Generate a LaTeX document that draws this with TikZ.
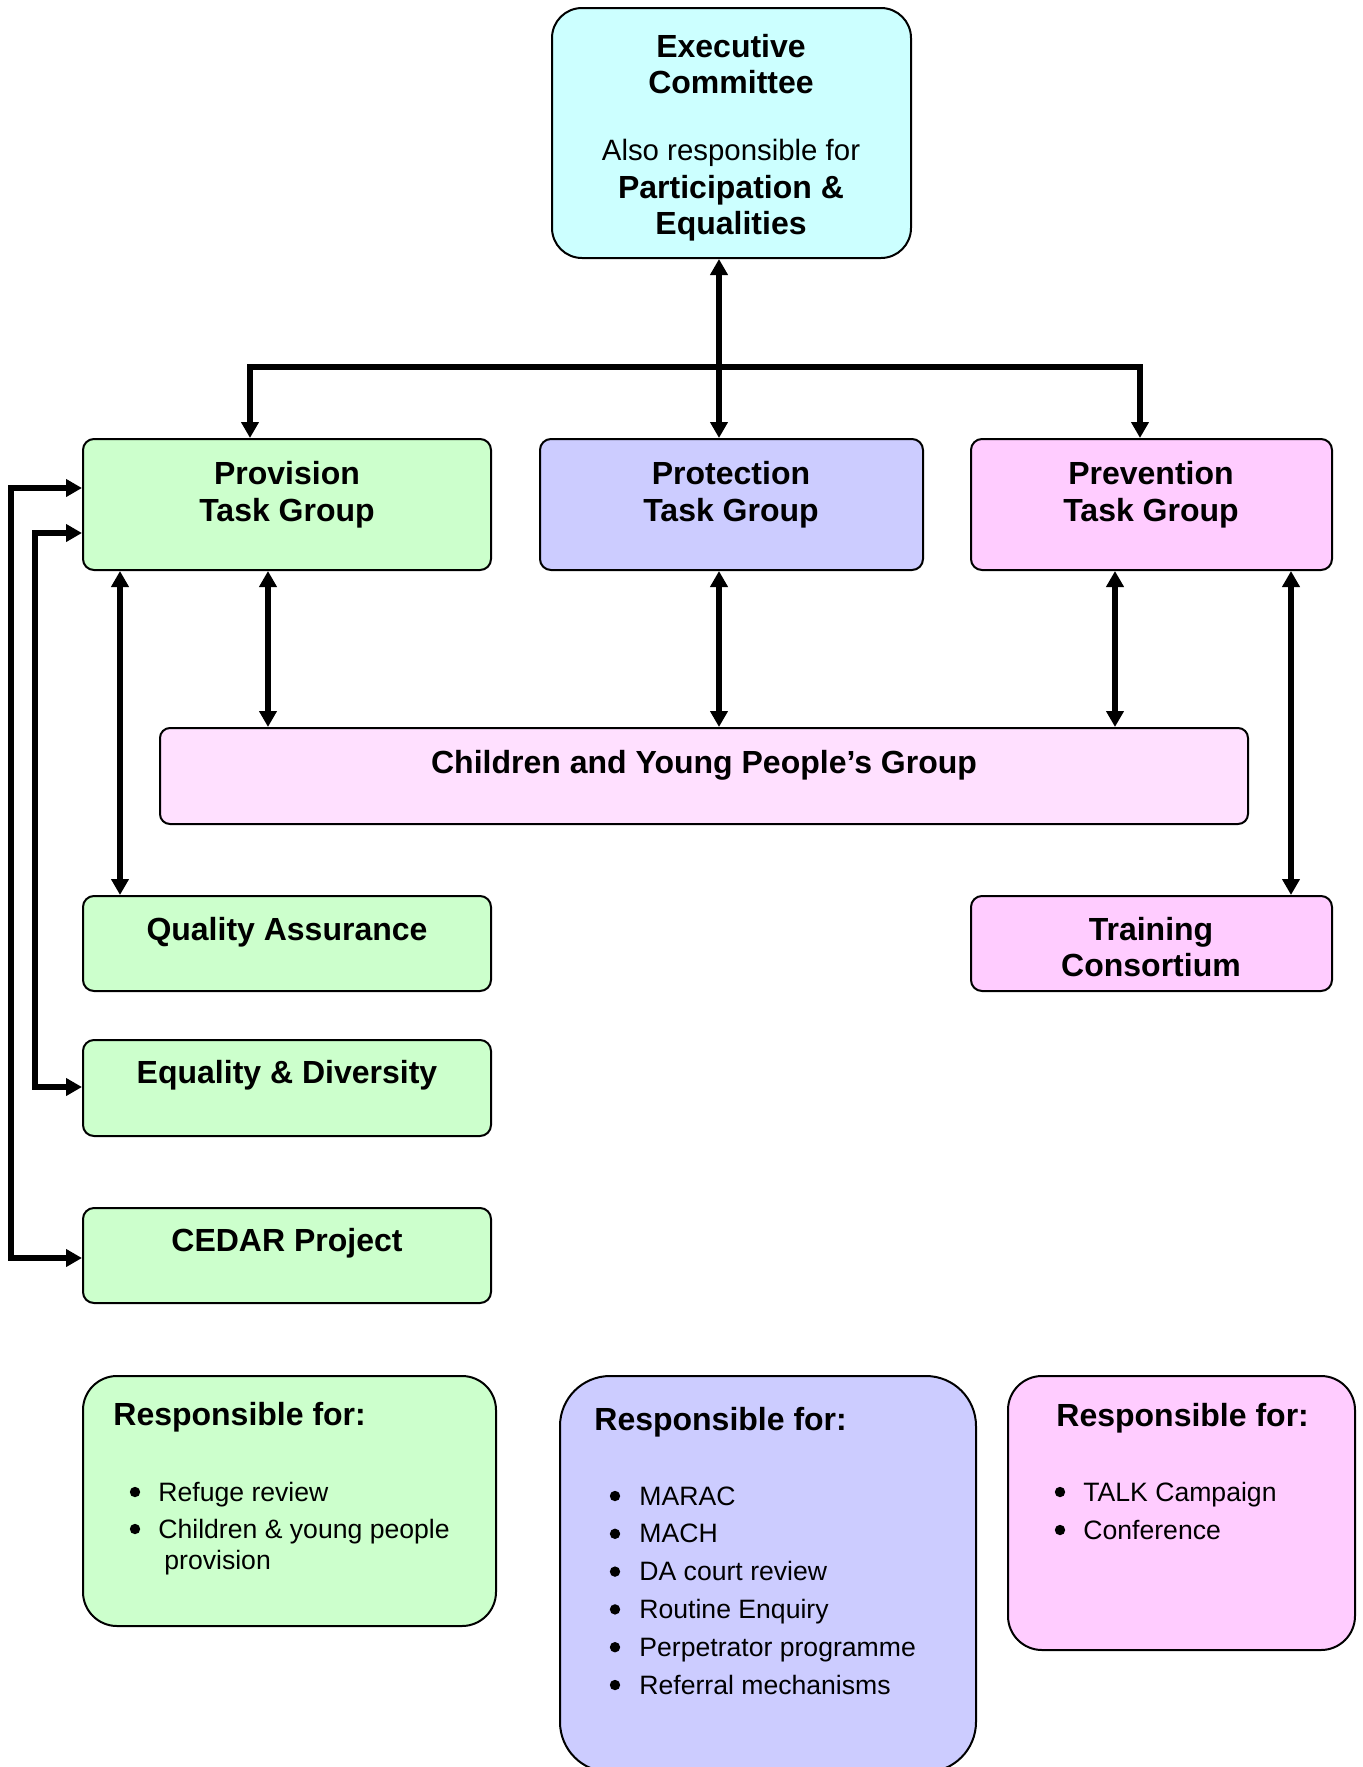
\documentclass[tikz,border=0pt]{standalone}
\usepackage{fontspec}
\setmainfont{Liberation Sans}
\usetikzlibrary{arrows.meta,fit}
\definecolor{execc}{HTML}{CCFFFF}
\definecolor{greenc}{HTML}{CCFFCC}
\definecolor{bluec}{HTML}{CCCCFF}
\definecolor{pinkc}{HTML}{FFCCFF}
\definecolor{cypc}{HTML}{FFE0FF}
\begin{document}
\begin{tikzpicture}[x=0.5pt,y=-0.5pt,
  box/.style={draw=black, line width=1pt, inner sep=0pt},
  arr/.style={line width=2.8pt, {Triangle[length=8pt,width=8.5pt]}-{Triangle[length=8pt,width=8.5pt]}},
  bt/.style={font=\fontsize{16pt}{18pt}\selectfont\bfseries, anchor=base, inner sep=0pt},
  rt/.style={font=\fontsize{14.7pt}{17pt}\selectfont, anchor=base, inner sep=0pt},
  rh/.style={font=\fontsize{16pt}{18pt}\selectfont\bfseries, anchor=base west, inner sep=0pt},
  it/.style={font=\fontsize{13.3pt}{16pt}\selectfont, anchor=base west, inner sep=0pt},
  bu/.style={circle, fill=black, inner sep=0pt, minimum size=5.2pt}
]
\useasboundingbox (0,0) rectangle (1362,1767);

% boxes
\node[box, fill=execc, rounded corners=15pt, fit={(552,8) (911,258)}] (exec) {};
\node[box, fill=greenc, rounded corners=5.5pt, fit={(83,439) (491,570)}] (prov) {};
\node[box, fill=bluec, rounded corners=5.5pt, fit={(540,439) (923,570)}] (prot) {};
\node[box, fill=pinkc, rounded corners=5.5pt, fit={(971,439) (1332,570)}] (prev) {};
\node[box, fill=cypc, rounded corners=5pt, fit={(160,728) (1248,824)}] (cyp) {};
\node[box, fill=greenc, rounded corners=5.5pt, fit={(83,896) (491,991)}] (qa) {};
\node[box, fill=pinkc, rounded corners=5.5pt, fit={(971,896) (1332,991)}] (tc) {};
\node[box, fill=greenc, rounded corners=5.5pt, fit={(83,1040) (491,1136)}] (ed) {};
\node[box, fill=greenc, rounded corners=5.5pt, fit={(83,1208) (491,1303)}] (cedar) {};
\node[box, fill=greenc, rounded corners=17pt, fit={(83,1376) (496,1626)}] (rgreen) {};
\node[box, fill=bluec, rounded corners=25pt, fit={(560,1376) (976,1772)}] (rblue) {};
\node[box, fill=pinkc, rounded corners=17pt, fit={(1008,1376) (1355,1650)}] (rpink) {};

% texts
\node[bt] (e1) at (731,57) {Executive};
\node[bt] (e2) at (731,93) {Committee};
\node[rt] (e3) at (731,160) {Also responsible for};
\node[bt] (e4) at (731,198) {Participation \&};
\node[bt] (e5) at (731,234) {Equalities};

\node[bt] (p1) at (287,484) {Provision};
\node[bt] (p2) at (287,521) {Task Group};
\node[bt] (q1) at (731,484) {Protection};
\node[bt] (q2) at (731,521) {Task Group};
\node[bt] (v1) at (1151,484) {Prevention};
\node[bt] (v2) at (1151,521) {Task Group};

\node[bt] (cyt) at (704,773) {Children and Young People’s Group};
\node[bt] (qat) at (287,940) {Quality Assurance};
\node[bt] (tc1) at (1151,940) {Training};
\node[bt] (tc2) at (1151,976) {Consortium};
\node[bt] (edt) at (287,1083) {Equality \& Diversity};
\node[bt] (cet) at (287,1251) {CEDAR Project};

% green responsibilities
\node[rh] (gh) at (113,1425) {Responsible for:};
\node[bu] (gb1) at (135,1492) {};
\node[it] (gi1) at (158,1501) {Refuge review};
\node[bu] (gb2) at (135,1529) {};
\node[it] (gi2) at (158,1538) {Children \& young people};
\node[it] (gi3) at (164,1569) {provision};

% blue responsibilities
\node[rh] (bh) at (594,1430) {Responsible for:};
\foreach \t [count=\i from 0] in {MARAC,MACH,DA court review,Routine Enquiry,Perpetrator programme,Referral mechanisms}{
  \node[bu] (bb\i) at (615,1496+37.8*\i) {};
  \node[it] (bi\i) at (639,1505+37.8*\i) {\t};
}

% pink responsibilities
\node[rh] (ph) at (1056,1426) {Responsible for:};
\node[bu] (pb1) at (1060,1492) {};
\node[it] (pi1) at (1083,1501) {TALK Campaign};
\node[bu] (pb2) at (1060,1530) {};
\node[it] (pi2) at (1083,1539) {Conference};

% helper coordinates
\coordinate (xE) at (719,0);
\coordinate (xL) at (250,367);
\coordinate (xR) at (1140,367);
\coordinate (xPC) at (268,0);
\coordinate (xMC) at (719,0);
\coordinate (xRC) at (1115,0);
\coordinate (xQA) at (120,0);
\coordinate (xTC) at (1291,0);
\coordinate (o1) at (11,488);
\coordinate (o2) at (11,1258);
\coordinate (i1) at (35,533);
\coordinate (i2) at (35,1087);

% connectors
\draw[arr] (exec.south -| xE) -- (prot.north -| xE);
\draw[arr] (prov.north -| xL) -- (xL) -- (xR) -- (prev.north -| xR);
\draw[arr] (prov.south -| xPC) -- (cyp.north -| xPC);
\draw[arr] (prot.south -| xMC) -- (cyp.north -| xMC);
\draw[arr] (prev.south -| xRC) -- (cyp.north -| xRC);
\draw[arr] (prov.south -| xQA) -- (qa.north -| xQA);
\draw[arr] (prev.south -| xTC) -- (tc.north -| xTC);
\draw[arr] (prov.west |- o1) -- (o1) -- (o2) -- (cedar.west |- o2);
\draw[arr] (prov.west |- i1) -- (i1) -- (i2) -- (ed.west |- i2);
\end{tikzpicture}
\end{document}
